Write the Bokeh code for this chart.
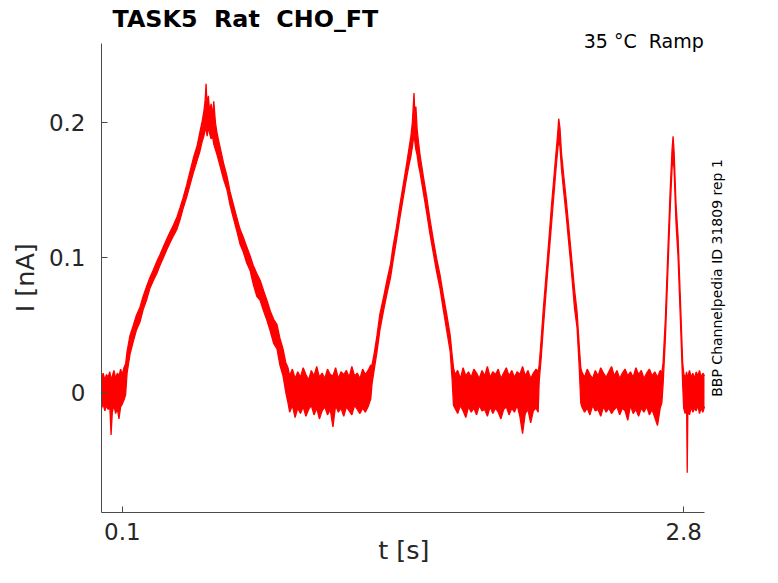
from bokeh.plotting import figure
from bokeh.models import Range1d, FixedTicker, NumeralTickFormatter, Label, ColumnDataSource
from bokeh.embed import file_html
from bokeh.resources import INLINE

# ---------------- data ----------------
title_text = "TASK5\u00a0 Rat\u00a0 CHO_FT"
cond_text = "35 °C\u00a0 Ramp"
side_text = "BBP Channelpedia ID 31809 rep 1"
x_label = "t [s]"
y_label = "I [nA]"
x_ticks = [0.1, 2.8]
y_ticks = [0, 0.1, 0.2]

# envelope of the recorded current (upper / lower edge of the noisy trace)
base1_t = [0.000, 0.008, 0.016, 0.024, 0.032, 0.040, 0.046, 0.052, 0.060, 0.068, 0.076, 0.084, 0.092, 0.100, 0.108]
base1_hi = [0.010, 0.014, 0.009, 0.013, 0.011, 0.015, 0.009, 0.012, 0.016, 0.010, 0.014, 0.012, 0.017, 0.013, 0.018]
base1_lo = [-0.012, -0.009, -0.014, -0.010, -0.013, -0.011, -0.032, -0.015, -0.010, -0.016, -0.012, -0.020, -0.011, -0.009, -0.006]

ramp1_t = [0.116, 0.123, 0.137, 0.152, 0.168, 0.185, 0.200, 0.216, 0.233, 0.250, 0.266, 0.281, 0.298, 0.315,
           0.330, 0.346, 0.363, 0.378, 0.392, 0.410, 0.426, 0.444, 0.460, 0.472, 0.484, 0.492, 0.498, 0.503,
           0.508, 0.514, 0.520, 0.527, 0.534, 0.540, 0.548, 0.556, 0.570, 0.587, 0.604, 0.618, 0.633, 0.650,
           0.666, 0.682, 0.698, 0.715, 0.730, 0.747, 0.763, 0.780, 0.796, 0.812, 0.828, 0.844, 0.858, 0.873,
           0.886, 0.897]
ramp1_hi = [0.021, 0.030, 0.042, 0.049, 0.057, 0.063, 0.071, 0.078, 0.085, 0.091, 0.097, 0.102, 0.108, 0.114,
            0.119, 0.124, 0.130, 0.137, 0.144, 0.154, 0.164, 0.175, 0.183, 0.192, 0.201, 0.208, 0.216, 0.229,
            0.212, 0.220, 0.208, 0.214, 0.205, 0.216, 0.200, 0.192, 0.182, 0.170, 0.160, 0.149, 0.140, 0.130,
            0.121, 0.115, 0.108, 0.101, 0.094, 0.088, 0.083, 0.075, 0.068, 0.060, 0.054, 0.050, 0.040, 0.032,
            0.022, 0.018]
ramp1_lo = [-0.002, 0.014, 0.028, 0.037, 0.046, 0.052, 0.061, 0.068, 0.077, 0.083, 0.088, 0.094, 0.100, 0.106,
            0.111, 0.116, 0.121, 0.128, 0.136, 0.145, 0.154, 0.164, 0.172, 0.178, 0.186, 0.190, 0.194, 0.196,
            0.190, 0.197, 0.192, 0.188, 0.190, 0.184, 0.180, 0.176, 0.168, 0.158, 0.150, 0.139, 0.130, 0.120,
            0.110, 0.104, 0.096, 0.090, 0.080, 0.071, 0.068, 0.060, 0.053, 0.045, 0.036, 0.032, 0.020, 0.012,
            0.000, -0.008]

base2_t = [0.905, 0.918, 0.931, 0.944, 0.957, 0.970, 0.983, 0.996, 1.009, 1.022,
           1.035, 1.048, 1.061, 1.074, 1.087, 1.100, 1.113, 1.126, 1.139, 1.152,
           1.165, 1.178, 1.191, 1.204, 1.217, 1.230, 1.243, 1.256, 1.269, 1.282, 1.295]
base2_hi = [0.012, 0.017, 0.010, 0.015, 0.011, 0.018, 0.013, 0.009, 0.016, 0.012,
            0.019, 0.011, 0.014, 0.010, 0.017, 0.013, 0.012, 0.018, 0.010, 0.015,
            0.013, 0.016, 0.011, 0.019, 0.012, 0.014, 0.010, 0.017, 0.013, 0.016, 0.020]
base2_lo = [-0.015, -0.010, -0.019, -0.012, -0.016, -0.011, -0.018, -0.013, -0.010, -0.017,
            -0.012, -0.020, -0.014, -0.011, -0.017, -0.013, -0.026, -0.010, -0.015, -0.012,
            -0.018, -0.011, -0.014, -0.017, -0.010, -0.013, -0.016, -0.012, -0.015, -0.011, -0.005]

ramp2_t = [1.301, 1.313, 1.325, 1.339, 1.356, 1.373, 1.390, 1.402, 1.418, 1.436,
           1.450, 1.465, 1.478, 1.488, 1.495, 1.500, 1.503, 1.507, 1.512, 1.518,
           1.525, 1.532, 1.548, 1.564, 1.580, 1.596, 1.612, 1.628, 1.644, 1.660,
           1.677, 1.686, 1.693]
ramp2_hi = [0.020, 0.030, 0.042, 0.058, 0.070, 0.083, 0.095, 0.108, 0.122, 0.140,
            0.153, 0.167, 0.180, 0.190, 0.200, 0.214, 0.222, 0.206, 0.212, 0.195,
            0.185, 0.176, 0.160, 0.145, 0.128, 0.113, 0.099, 0.087, 0.072, 0.058,
            0.042, 0.028, 0.018]
ramp2_lo = [0.006, 0.018, 0.030, 0.046, 0.060, 0.073, 0.085, 0.097, 0.112, 0.130,
            0.143, 0.157, 0.168, 0.175, 0.182, 0.188, 0.192, 0.186, 0.180, 0.176,
            0.168, 0.163, 0.148, 0.133, 0.117, 0.103, 0.089, 0.077, 0.061, 0.046,
            0.030, 0.010, -0.010]

base3_t = [1.700, 1.713, 1.726, 1.739, 1.752, 1.765, 1.778, 1.791, 1.804, 1.817,
           1.830, 1.843, 1.856, 1.869, 1.882, 1.895, 1.908, 1.921, 1.934, 1.947,
           1.960, 1.973, 1.986, 1.999, 2.012, 2.025, 2.038, 2.051, 2.064, 2.077,
           2.090, 2.100]
base3_hi = [0.013, 0.016, 0.010, 0.018, 0.012, 0.015, 0.011, 0.017, 0.014, 0.010,
            0.016, 0.012, 0.019, 0.011, 0.015, 0.013, 0.017, 0.010, 0.014, 0.018,
            0.012, 0.016, 0.011, 0.015, 0.013, 0.019, 0.012, 0.016, 0.010, 0.014,
            0.017, 0.015]
base3_lo = [-0.012, -0.016, -0.010, -0.014, -0.019, -0.011, -0.015, -0.012, -0.017, -0.010,
            -0.014, -0.013, -0.018, -0.011, -0.016, -0.012, -0.015, -0.020, -0.013, -0.011,
            -0.017, -0.012, -0.015, -0.010, -0.018, -0.031, -0.016, -0.013, -0.023, -0.014,
            -0.012, -0.015]

ramp3_t = [2.105, 2.115, 2.125, 2.135, 2.145, 2.155, 2.165, 2.175, 2.185, 2.193, 2.199,
           2.205, 2.212, 2.222, 2.235, 2.250, 2.262, 2.275, 2.287, 2.297, 2.305]
ramp3_hi = [0.020, 0.040, 0.062, 0.081, 0.100, 0.120, 0.140, 0.158, 0.176, 0.190, 0.203,
            0.196, 0.178, 0.162, 0.143, 0.118, 0.098, 0.076, 0.060, 0.036, 0.018]
ramp3_lo = [0.008, 0.026, 0.048, 0.068, 0.088, 0.107, 0.126, 0.145, 0.164, 0.178, 0.188,
            0.182, 0.166, 0.150, 0.131, 0.106, 0.086, 0.062, 0.048, 0.020, -0.008]

base4_t = [2.310, 2.323, 2.336, 2.349, 2.362, 2.375, 2.388, 2.401, 2.414, 2.427,
           2.440, 2.453, 2.466, 2.479, 2.492, 2.505, 2.518, 2.531, 2.544, 2.557,
           2.570, 2.583, 2.596, 2.609, 2.622, 2.635, 2.648, 2.661, 2.674, 2.687, 2.695]
base4_hi = [0.015, 0.011, 0.017, 0.013, 0.010, 0.016, 0.012, 0.018, 0.014, 0.011,
            0.015, 0.019, 0.012, 0.016, 0.010, 0.014, 0.017, 0.012, 0.015, 0.011,
            0.018, 0.013, 0.016, 0.010, 0.014, 0.017, 0.012, 0.015, 0.011, 0.016, 0.014]
base4_lo = [-0.011, -0.015, -0.012, -0.017, -0.010, -0.014, -0.013, -0.018, -0.011, -0.015,
            -0.012, -0.016, -0.013, -0.011, -0.017, -0.012, -0.014, -0.021, -0.010, -0.016,
            -0.013, -0.018, -0.012, -0.015, -0.011, -0.017, -0.013, -0.019, -0.025, -0.012, -0.008]

ramp4_t = [2.701, 2.712, 2.724, 2.735, 2.744, 2.749, 2.754, 2.763, 2.773, 2.785, 2.795]
ramp4_hi = [0.022, 0.055, 0.105, 0.150, 0.180, 0.190, 0.178, 0.140, 0.115, 0.065, 0.022]
ramp4_lo = [0.006, 0.040, 0.090, 0.136, 0.166, 0.176, 0.164, 0.126, 0.100, 0.050, 0.006]

base5_t = [2.800, 2.807, 2.814, 2.817, 2.820, 2.828, 2.836, 2.844, 2.852, 2.860, 2.868, 2.876, 2.884, 2.892, 2.900]
base5_hi = [0.014, 0.010, 0.015, 0.008, 0.012, 0.016, 0.011, 0.014, 0.010, 0.015, 0.012, 0.016, 0.011, 0.014, 0.012]
base5_lo = [-0.012, -0.016, -0.010, -0.060, -0.013, -0.017, -0.011, -0.015, -0.012, -0.014, -0.010, -0.016, -0.012, -0.015, -0.011]

t_all = base1_t + ramp1_t + base2_t + ramp2_t + base3_t + ramp3_t + base4_t + ramp4_t + base5_t
hi_all = base1_hi + ramp1_hi + base2_hi + ramp2_hi + base3_hi + ramp3_hi + base4_hi + ramp4_hi + base5_hi
lo_all = base1_lo + ramp1_lo + base2_lo + ramp2_lo + base3_lo + ramp3_lo + base4_lo + ramp4_lo + base5_lo

# ---------------- figure ----------------
X_AXIS = (0, 2.9)
Y_AXIS = (-0.0895, 0.2586)
FONT = "DejaVu Sans"
RED = "#ff0000"
AX = "#4a4a4a"
TXT = "#262626"
NB = "\u00a0"

# the frame reaches up to the title and right to the side note, axes are bounded
p = figure(width=762, height=567, output_backend="svg", toolbar_location=None,
           x_range=Range1d(0, 3.0251), y_range=Range1d(Y_AXIS[0], 0.2893),
           min_border_left=101, min_border_right=32, min_border_top=2, min_border_bottom=55)
p.outline_line_color = None
p.grid.visible = False
p.background_fill_color = "white"
p.border_fill_color = "white"

src = ColumnDataSource(dict(t=t_all, hi=hi_all, lo=lo_all))
p.varea(x="t", y1="lo", y2="hi", source=src, fill_color=RED)
p.line(x="t", y="hi", source=src, line_color=RED, line_width=1.3)
p.line(x="t", y="lo", source=src, line_color=RED, line_width=1.3)

for ax, ticks in ((p.xaxis, x_ticks), (p.yaxis, y_ticks)):
    ax.ticker = FixedTicker(ticks=ticks)
    ax.formatter = NumeralTickFormatter(format="0.[0]")
    ax.axis_line_color = AX
    ax.major_tick_line_color = AX
    ax.major_tick_in = 6
    ax.major_tick_out = 0
    ax.minor_tick_line_color = None
    ax.major_label_text_font = FONT
    ax.major_label_text_font_size = "23px"
    ax.major_label_text_color = TXT
    ax.axis_label_text_font = FONT
    ax.axis_label_text_font_size = "25.5px"
    ax.axis_label_text_font_style = "normal"
    ax.axis_label_text_color = TXT

p.xaxis.bounds = X_AXIS
p.yaxis.bounds = Y_AXIS
# trailing no-break spaces re-centre the labels on the bounded axes
p.xaxis.axis_label = x_label + NB * 3
p.yaxis.axis_label = y_label + NB * 5
p.xaxis.major_label_standoff = 10
p.xaxis.axis_label_text_line_height = 1.0
p.xaxis.axis_label_standoff = -8
p.yaxis.major_label_standoff = 16
p.yaxis.axis_label_standoff = 6

p.add_layout(Label(x=0.0529, y=0.2773, text=title_text, text_font=FONT, text_font_size="23.8px",
                   text_font_style="bold", text_color="black", text_align="left",
                   text_baseline="alphabetic"))
p.add_layout(Label(x=2.8966, y=0.2605, text=cond_text, text_font=FONT, text_font_size="19px",
                   text_color="black", text_align="right", text_baseline="alphabetic"))
p.add_layout(Label(x=2.9578, y=0.0847, text=side_text, text_font=FONT, text_font_size="14px",
                   text_color="black", text_align="center", text_baseline="alphabetic",
                   angle=90, angle_units="deg"))

open("out.html", "w").write(file_html(p, INLINE))
